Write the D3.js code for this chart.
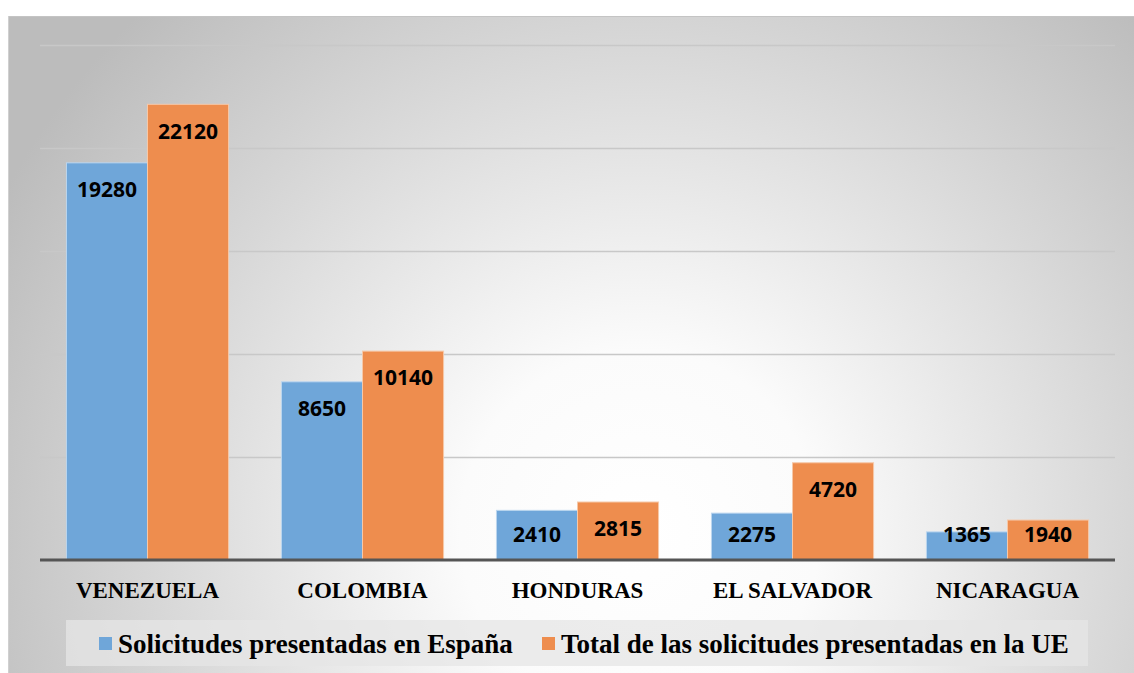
<!DOCTYPE html>
<html lang="es">
<head>
<meta charset="UTF-8">
<title>Solicitudes de asilo</title>
<script src="https://d3js.org/d3.v7.min.js"></script>
<style>
  body { margin: 0; background: #fff; }
</style>
</head>
<body>
<div id="chart"></div>
<script>
// data
const countries = ["VENEZUELA", "COLOMBIA", "HONDURAS", "EL SALVADOR", "NICARAGUA"];
const espana = [19280, 8650, 2410, 2275, 1365];
const totalUE = [22120, 10140, 2815, 4720, 1940];
const seriesNames = ["Solicitudes presentadas en España", "Total de las solicitudes presentadas en la UE"];
const yTicks = [0, 5000, 10000, 15000, 20000, 25000];

const W = 1134, H = 673;
const plot = { left: 40, right: 1115, top: 45, bottom: 560 };
const colors = ["#6fa6d9", "#ee8d4e"];

const svg = d3.select("#chart").append("svg")
    .attr("width", W)
    .attr("height", H);

// background with radial gradient
const defs = svg.append("defs");
const grad = defs.append("radialGradient")
    .attr("id", "bg")
    .attr("gradientUnits", "userSpaceOnUse")
    .attr("cx", 640).attr("cy", 530).attr("r", 720);
grad.append("stop").attr("offset", "0%").attr("stop-color", "#ffffff");
grad.append("stop").attr("offset", "25%").attr("stop-color", "#fbfbfb");
grad.append("stop").attr("offset", "100%").attr("stop-color", "#bcbcbc");

svg.append("rect")
    .attr("x", 8).attr("y", 16)
    .attr("width", W - 8).attr("height", H - 16)
    .attr("fill", "url(#bg)");
svg.append("line")
    .attr("x1", 8).attr("x2", W).attr("y1", 16.5).attr("y2", 16.5)
    .attr("stroke", "#c4c4c4");
svg.append("line")
    .attr("x1", 8.5).attr("x2", 8.5).attr("y1", 16).attr("y2", H)
    .attr("stroke", "#d0d0d0");

// scales
const x0 = d3.scaleBand()
    .domain(countries)
    .range([plot.left, plot.right])
    .paddingInner(0.246)
    .paddingOuter(0.123);

const x1 = d3.scaleBand()
    .domain([0, 1])
    .range([0, x0.bandwidth()]);

const y = d3.scaleLinear()
    .domain([0, 25000])
    .range([plot.bottom, plot.top]);

// gridlines
svg.append("g")
    .selectAll("line")
    .data(yTicks.slice(1))
    .join("line")
    .attr("x1", plot.left).attr("x2", plot.right)
    .attr("y1", d => Math.round(y(d)) + 0.5)
    .attr("y2", d => Math.round(y(d)) + 0.5)
    .attr("stroke", "#c8c8c8")
    .attr("stroke-width", 1.5);

// bars
const rows = countries.map((c, i) => ({ country: c, vals: [espana[i], totalUE[i]] }));

const groups = svg.append("g")
    .selectAll("g")
    .data(rows)
    .join("g")
    .attr("transform", d => `translate(${x0(d.country)},0)`);

groups.selectAll("rect")
    .data(d => d.vals.map((v, k) => ({ k, v })))
    .join("rect")
    .attr("x", d => x1(d.k))
    .attr("y", d => y(d.v))
    .attr("width", x1.bandwidth())
    .attr("height", d => y(0) - y(d.v))
    .attr("fill", d => colors[d.k])
    .attr("stroke", d => d.k === 0 ? "#bcd6ef" : "#f6c8a8")
    .attr("stroke-width", 1);

// value labels inside bar ends
groups.selectAll("text")
    .data(d => d.vals.map((v, k) => ({ k, v })))
    .join("text")
    .attr("x", d => x1(d.k) + x1.bandwidth() / 2)
    .attr("y", d => Math.min(y(d.v) + 27, plot.bottom - 25))
    .attr("dy", "0.35em")
    .attr("text-anchor", "middle")
    .style("font-family", "'Open Sans', sans-serif")
    .style("font-weight", 700)
    .style("font-size", "21px")
    .attr("fill", "#000")
    .text(d => d.v);

// x axis line
svg.append("line")
    .attr("x1", plot.left).attr("x2", plot.right)
    .attr("y1", plot.bottom).attr("y2", plot.bottom)
    .attr("stroke", "#555")
    .attr("stroke-width", 3);

// category labels
svg.append("g")
    .selectAll("text")
    .data(countries)
    .join("text")
    .attr("x", d => x0(d) + x0.bandwidth() / 2)
    .attr("y", 590)
    .attr("dy", "0.35em")
    .attr("text-anchor", "middle")
    .style("font-family", "'Liberation Serif', 'Times New Roman', serif")
    .style("font-weight", 700)
    .style("font-size", "23px")
    .text(d => d);

// legend
const lg = svg.append("g");
lg.append("rect")
    .attr("x", 66).attr("y", 620)
    .attr("width", 1022).attr("height", 46)
    .attr("fill", "#e6e6e6")
    .attr("fill-opacity", 0.75);

const legendX = [99, 542];
const items = lg.selectAll("g")
    .data(seriesNames)
    .join("g")
    .attr("transform", (d, i) => `translate(${legendX[i]},637)`);

items.append("rect")
    .attr("width", 13).attr("height", 13)
    .attr("fill", (d, i) => colors[i]);

items.append("text")
    .attr("x", 19)
    .attr("y", 6.5)
    .attr("dy", "0.35em")
    .style("font-family", "'Liberation Serif', 'Times New Roman', serif")
    .style("font-weight", 700)
    .style("font-size", "27px")
    .text(d => d);
</script>
</body>
</html>
